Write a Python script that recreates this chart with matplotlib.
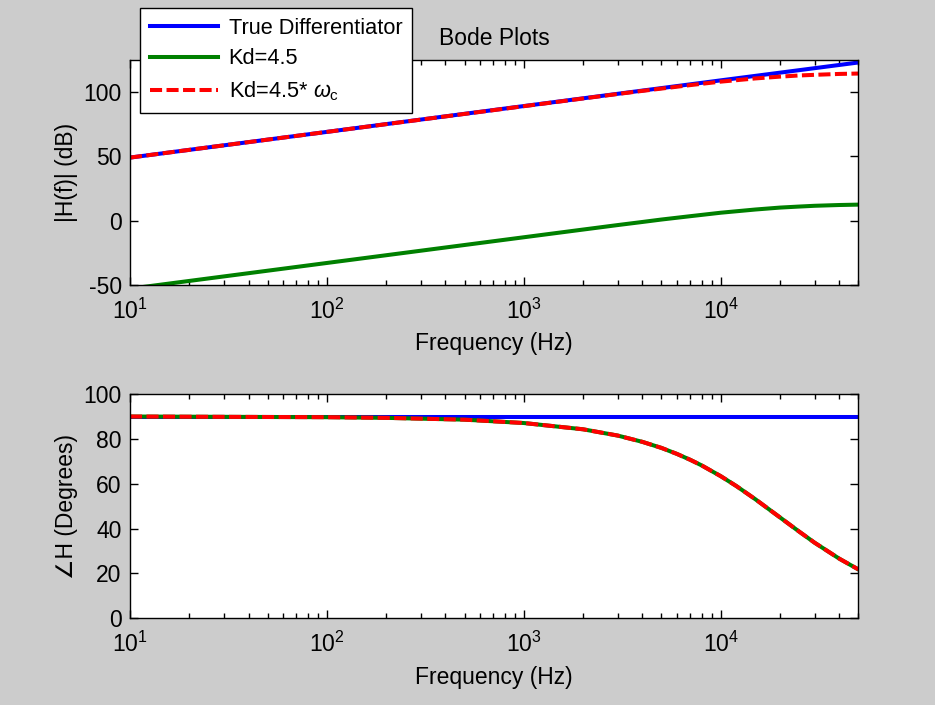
import matplotlib
matplotlib.use('Agg')
import matplotlib.pyplot as plt
import numpy as np

plt.rcParams['font.family'] = ['Liberation Sans', 'DejaVu Sans']
plt.rcParams['mathtext.fontset'] = 'custom'
plt.rcParams['mathtext.rm'] = 'Liberation Sans'
plt.rcParams['mathtext.it'] = 'Liberation Sans:italic'
plt.rcParams['font.size'] = 16.5
plt.rcParams['axes.unicode_minus'] = False

# magnitude of the ideal differentiator (dB)
f_true = [10, 100, 1e3, 1e4, 5e4]
mag_true = [49.0, 69.0, 89.1, 109.1, 123.0]

# band-limited differentiator, sampled frequencies
f_bl = [10, 100, 1e3, 2e3, 3e3, 4e3, 5e3, 7e3, 1e4, 1.5e4, 2e4, 2.5e4, 3e4, 4e4, 5e4]
mag_kd = [-53.0, -33.0, -13.0, -7.0, -3.5, -1.1, 0.8, 3.4, 6.1, 8.6, 10.1, 10.9, 11.5, 12.1, 12.4]
mag_kdwc = [49.0, 69.0, 89.0, 95.0, 98.5, 100.9, 102.7, 105.4, 108.1, 110.6, 112.0, 112.9, 113.4, 114.1, 114.4]

# phase (degrees)
f_ph = [10, 100, 200, 500, 1e3, 2e3, 3e3, 4e3, 5e3, 6e3, 7e3, 8e3, 1e4, 1.2e4, 1.5e4, 2e4, 2.5e4, 3e4, 4e4, 5e4]
ph_true = [90] * len(f_ph)
ph_kd = [90.0, 89.7, 89.4, 88.6, 87.1, 84.3, 81.5, 78.7, 76.0, 73.3, 70.7, 68.2, 63.4, 59.0, 53.1, 45.0, 38.7, 33.7, 26.6, 21.8]

gray = '#cccccc'
fig = plt.figure(figsize=(9.35, 7.05), dpi=100, facecolor=gray)
ax1 = fig.add_axes([0.139, 0.596, 0.779, 0.319])
ax2 = fig.add_axes([0.139, 0.123, 0.779, 0.318])

lw = 2.9
dash = (0, (3.0, 1.1))

l1, = ax1.semilogx(f_true, mag_true, color='#0000ff', lw=lw)
l2, = ax1.semilogx(f_bl, mag_kd, color='#008000', lw=lw)
l3, = ax1.semilogx(f_bl, mag_kdwc, color='#ff0000', lw=lw, linestyle=dash)

ax2.semilogx(f_ph, ph_true, color='#0000ff', lw=lw)
ax2.semilogx(f_ph, ph_kd, color='#008000', lw=lw)
ax2.semilogx(f_ph, ph_kd, color='#ff0000', lw=lw, linestyle=dash)

ax1.set_ylim(-50, 125)
ax1.set_yticks([-50, 0, 50, 100])
ax2.set_ylim(0, 100)
ax2.set_yticks([0, 20, 40, 60, 80, 100])

for ax in (ax1, ax2):
    ax.set_xlim(10, 5e4)
    ax.set_facecolor('white')
    ax.tick_params(which='both', direction='in', top=True, right=True, colors='black')
    ax.tick_params(which='major', length=6, width=1)
    ax.tick_params(which='minor', length=3.5, width=1)
    ax.tick_params(axis='y', pad=6)
    ax.tick_params(axis='x', pad=10)
    for s in ax.spines.values():
        s.set_linewidth(1)
        s.set_color('black')
    ax.set_xlabel('Frequency (Hz)', labelpad=6)

ax1.set_ylabel('|H(f)| (dB)', labelpad=4)
ax2.set_ylabel('\u2220H (Degrees)', labelpad=4)
ax1.set_title('Bode Plots', pad=11, fontsize=16.5)

fig.legend([l1, l2, l3], ['True Differentiator', 'Kd=4.5', r'Kd=4.5* $\omega_{\rm c}$'],
           loc='upper left', bbox_to_anchor=(0.150, 0.989), fancybox=False,
           framealpha=1, edgecolor='black', handlelength=3.1, borderpad=0.45,
           labelspacing=0.45, handletextpad=0.5, borderaxespad=0, fontsize=15.7)

fig.savefig('out.png', dpi=100, facecolor=gray)
